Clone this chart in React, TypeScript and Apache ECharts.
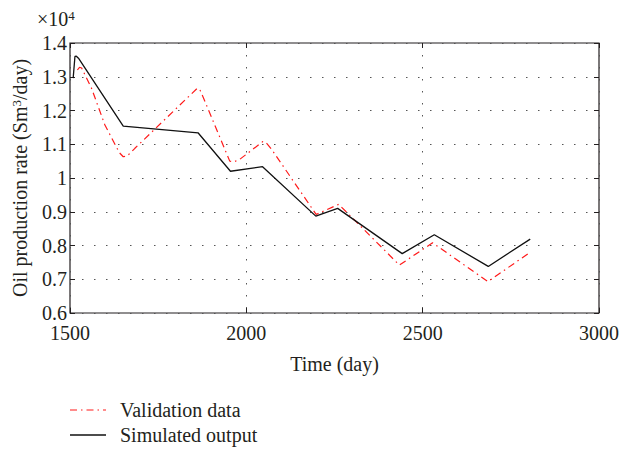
import React, { useEffect, useRef } from "react";
import * as echarts from "echarts";

const xTicks = [1500, 2000, 2500, 3000];
const yTicks = [6000, 7000, 8000, 9000, 10000, 11000, 12000, 13000, 14000];

const simDays = [1509, 1514, 1518, 1524, 1651, 1863, 1955, 2046, 2197, 2259, 2442, 2533, 2686, 2805];
const simRate = [12960, 13600, 13610, 13550, 11540, 11340, 10200, 10335, 8870, 9100, 7760, 8320, 7380, 8190];

const valDays = [1521, 1527, 1533, 1561, 1599, 1640, 1651, 1662, 1684, 1861, 1868, 1877, 1953, 1965, 1981, 2047, 2055, 2071, 2198, 2262, 2434, 2528, 2685, 2805];
const valRate = [13200, 13280, 13260, 12660, 11570, 10750, 10630, 10650, 10880, 12660, 12620, 12410, 10500, 10480, 10550, 11080, 11060, 10860, 8920, 9220, 7420, 8080, 6930, 7800];

const seriesNames = ["Validation data", "Simulated output"];

const FONT = '"Liberation Serif", "Times New Roman", serif';
const TXT = "#231f20";
const RED = "#ff1a1a";
const BLACK = "#111";
const RED_DASH = [7, 4, 1.5, 4];

export default function App() {
  const ref = useRef<HTMLDivElement>(null);
  useEffect(() => {
    if (!ref.current) return;
    const chart = echarts.init(ref.current, undefined, { renderer: "svg" });
    const tickStyle = { inside: true, length: 5, lineStyle: { color: TXT, width: 1 } };
    const dotted = { show: true, lineStyle: { type: [1.5, 10.5], color: "#555", width: 1 } };
    const labelStyle = { fontFamily: FONT, fontSize: 20, color: TXT };
    const legendRows = [
      { name: seriesNames[0], y: 410, stroke: RED, dash: RED_DASH, width: 1.2 },
      { name: seriesNames[1], y: 435, stroke: BLACK, dash: null as any, width: 1.3 },
    ];
    const legendGraphics: any[] = [];
    legendRows.forEach((r) => {
      legendGraphics.push({
        type: "line",
        shape: { x1: 70, y1: r.y, x2: 106, y2: r.y },
        style: { stroke: r.stroke, lineWidth: r.width, lineDash: r.dash || undefined },
      });
      legendGraphics.push({
        type: "text",
        x: 120,
        y: r.y,
        style: { text: r.name, fontFamily: FONT, fontSize: 20, fill: TXT, verticalAlign: "middle", align: "left" },
      });
    });
    const option: any = {
      animation: false,
      grid: { left: 70, top: 43, right: 22, bottom: 136, show: true, borderColor: TXT, borderWidth: 1.2 },
      xAxis: [
        {
          type: "value",
          min: xTicks[0],
          max: xTicks[xTicks.length - 1],
          interval: 500,
          axisLine: { show: false },
          axisTick: tickStyle,
          axisLabel: { ...labelStyle, margin: 12, lineHeight: 16, formatter: (v: number) => String(v) },
          splitLine: dotted,
          name: "Time (day)",
          nameLocation: "middle",
          nameGap: 41,
          nameTextStyle: labelStyle,
        },
        {
          type: "value",
          position: "top",
          min: xTicks[0],
          max: xTicks[xTicks.length - 1],
          interval: 500,
          axisLine: { show: false },
          axisTick: tickStyle,
          axisLabel: { show: false },
          splitLine: { show: false },
        },
      ],
      yAxis: [
        {
          type: "value",
          min: yTicks[0],
          max: yTicks[yTicks.length - 1],
          interval: 1000,
          axisLine: { show: false },
          axisTick: tickStyle,
          axisLabel: { ...labelStyle, margin: 3, lineHeight: 16, formatter: (v: number) => String(Math.round(v / 1000) / 10) },
          splitLine: dotted,
          name: "Oil production rate (Sm{sup|3}/day)",
          nameLocation: "middle",
          nameGap: 40,
          nameTextStyle: {
            ...labelStyle,
            rich: { sup: { fontFamily: FONT, fontSize: 13, color: TXT, verticalAlign: "top" } },
          },
        },
        {
          type: "value",
          position: "right",
          min: yTicks[0],
          max: yTicks[yTicks.length - 1],
          interval: 1000,
          axisLine: { show: false },
          axisTick: tickStyle,
          axisLabel: { show: false },
          splitLine: { show: false },
        },
      ],
      graphic: [
        {
          type: "text",
          left: 37,
          top: 9,
          style: {
            text: "×10{sup|4}",
            fontFamily: FONT,
            fontSize: 20,
            fill: TXT,
            rich: { sup: { fontFamily: FONT, fontSize: 13, fill: TXT, verticalAlign: "top" } },
          },
        },
        ...legendGraphics,
      ],
      series: [
        {
          name: seriesNames[0],
          type: "line",
          data: valDays.map((d, i) => [d, valRate[i]]),
          showSymbol: false,
          symbol: "none",
          lineStyle: { color: RED, width: 1.2, type: RED_DASH },
          z: 3,
        },
        {
          name: seriesNames[1],
          type: "line",
          data: simDays.map((d, i) => [d, simRate[i]]),
          showSymbol: false,
          symbol: "none",
          lineStyle: { color: BLACK, width: 1.3 },
          z: 4,
        },
      ],
    };
    chart.setOption(option);
    return () => chart.dispose();
  }, []);
  return <div ref={ref} style={{ position: "absolute", left: 0, top: 0, width: 622, height: 449 }} />;
}
